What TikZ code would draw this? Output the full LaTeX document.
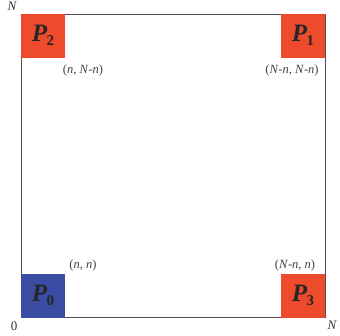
\documentclass[tikz,border=0pt]{standalone}
\usepackage{fontspec}
\setmainfont{Liberation Serif}
\definecolor{pred}{HTML}{EE4A2C}
\definecolor{pblue}{HTML}{3A4CA3}
\definecolor{edge}{HTML}{505050}
\newcommand{\pname}[1]{\textbf{\textit{P}}\kern-0.5pt\raisebox{-0.4ex}{\fontsize{15}{15}\selectfont\bfseries\upshape #1}}
\tikzset{
  corner/.style={minimum size=44pt, inner sep=0pt, anchor=center, font=\fontsize{25}{25}\selectfont\bfseries\itshape, text=black!85},
  coord/.style={font=\fontsize{12.5}{12.5}\selectfont, text=black!75, inner sep=0pt},
  axis/.style={font=\fontsize{13}{13}\selectfont\itshape, text=black!80, inner sep=0pt}
}
\begin{document}
\begin{tikzpicture}[x=1pt,y=-1pt]
\useasboundingbox (0,0) rectangle (340,335);
\coordinate (bl) at (21,317);
\coordinate (tr) at (325,14);
\draw[edge, line width=0.8pt] (bl) rectangle (tr);
\node[corner, fill=pred] (p2) at (43,35.5) {\pname{2}};
\node[corner, fill=pred] (p1) at (303,35.5) {\pname{1}};
\node[corner, fill=pblue] (p0) at (43,295.5) {\pname{0}};
\node[corner, fill=pred] (p3) at (303,295.5) {\pname{3}};
\node[coord] (l2) at (83,70) {(\textit{n}, \textit{N}-\textit{n})};
\node[coord] (l1) at (292,70) {(\textit{N}-\textit{n}, \textit{N}-\textit{n})};
\node[coord] (l0) at (83,265) {(\textit{n}, \textit{n})};
\node[coord] (l3) at (295,265) {(\textit{N}-\textit{n}, \textit{n})};
\node[axis] (nt) at (12,6) {N};
\node[axis, font=\fontsize{13}{13}\selectfont] (z) at (14,326) {0};
\node[axis] (nr) at (332,325) {N};
\end{tikzpicture}
\end{document}
